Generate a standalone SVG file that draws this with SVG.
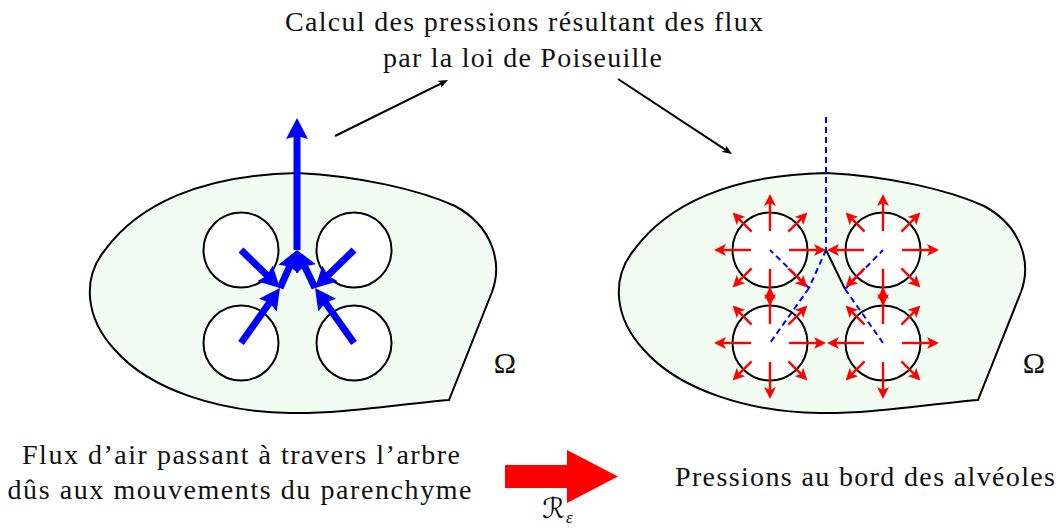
<svg xmlns="http://www.w3.org/2000/svg" xmlns:xlink="http://www.w3.org/1999/xlink" width="1062" height="528" viewBox="0 0 1062 528">
<style>
.txt{font-family:"Liberation Serif","DejaVu Serif",serif;fill:#111;}
.region{fill:#f2fcf2;stroke:#000;stroke-width:2;}
.alv{fill:#fff;stroke:#000;stroke-width:2;}
.flow{stroke:#0000ff;stroke-width:7;fill:none;marker-end:url(#bhead);}
.dash{stroke:#0000ff;stroke-width:2;stroke-dasharray:6 4;fill:none;}
.pr{stroke:#ff0000;stroke-width:2.4;marker-end:url(#rhead);}
.link{stroke:#000;stroke-width:2;fill:none;marker-end:url(#khead);}
</style>
<defs>
<marker id="bhead" markerUnits="userSpaceOnUse" viewBox="0 0 21 22" markerWidth="21" markerHeight="22" refX="10" refY="11" orient="auto"><path d="M0,0 L21,11 L0,22 L3,11 Z" fill="#0000ff"/></marker>
<marker id="rhead" markerUnits="userSpaceOnUse" viewBox="0 0 12 12" markerWidth="12" markerHeight="12" refX="6" refY="6" orient="auto"><path d="M0,0 L12,6 L0,12 L3,6 Z" fill="#ff0000"/></marker>
<marker id="khead" markerUnits="userSpaceOnUse" viewBox="0 0 10 8" markerWidth="10" markerHeight="8" refX="6" refY="4" orient="auto"><path d="M0,0 L10,4 L0,8 L2.5,4 Z" fill="#000"/></marker>
<path id="outline" d="M449,400 C400,404 340,414 290,413 C220,412 150,390 115,350 C85,318 82,278 105,250 C138,205 200,175 297,173 C360,176 420,190 455,206 C492,226 503,262 492,292 Z"/>
<g id="burst">
<line class="pr" x1="19" y1="0" x2="50" y2="0"/>
<line class="pr" x1="-19" y1="0" x2="-50" y2="0"/>
<line class="pr" x1="0" y1="19" x2="0" y2="50"/>
<line class="pr" x1="0" y1="-19" x2="0" y2="-50"/>
<line class="pr" x1="18.4" y1="18.4" x2="33.2" y2="33.2"/>
<line class="pr" x1="-18.4" y1="18.4" x2="-33.2" y2="33.2"/>
<line class="pr" x1="18.4" y1="-18.4" x2="33.2" y2="-33.2"/>
<line class="pr" x1="-18.4" y1="-18.4" x2="-33.2" y2="-33.2"/>
</g>
</defs>

<g id="domain-left">
<use xlink:href="#outline" href="#outline" class="region"/>
<text class="txt" x="505" y="373" font-size="30" text-anchor="middle">Ω</text>
</g>
<g id="alveoles-left">
<circle class="alv" cx="241" cy="250" r="37.5"/>
<circle class="alv" cx="354" cy="250" r="37.5"/>
<circle class="alv" cx="241" cy="343" r="37.5"/>
<circle class="alv" cx="354" cy="343" r="37.5"/>
</g>

<g id="domain-right">
<use xlink:href="#outline" href="#outline" class="region" transform="translate(529,0)"/>
<text class="txt" x="1034" y="373" font-size="30" text-anchor="middle">Ω</text>
</g>
<g id="alveoles-right">
<circle class="alv" cx="770" cy="250" r="37.5"/>
<circle class="alv" cx="883" cy="250" r="37.5"/>
<circle class="alv" cx="770" cy="343" r="37.5"/>
<circle class="alv" cx="883" cy="343" r="37.5"/>
</g>

<g id="connectors">
<g id="flux-tree">
<line class="flow" x1="297" y1="250" x2="297" y2="129"/>
<line class="flow" x1="280" y1="288" x2="292.5" y2="260"/>
<line class="flow" x1="315" y1="288" x2="301.7" y2="259.9"/>
<line class="flow" x1="241" y1="250" x2="272.1" y2="280.3"/>
<line class="flow" x1="241" y1="343" x2="273.6" y2="297"/>
<line class="flow" x1="354" y1="250" x2="322.9" y2="280.3"/>
<line class="flow" x1="354" y1="343" x2="321.4" y2="297"/>
</g>
<g id="pressure-tree">
<line class="dash" x1="826" y1="117" x2="826" y2="250"/>
<line class="dash" x1="826" y1="250" x2="809" y2="288"/>
<line x1="826" y1="250" x2="845" y2="289" stroke="#000" stroke-width="2"/>
<line class="dash" x1="809" y1="288" x2="770" y2="250"/>
<line class="dash" x1="809" y1="288" x2="770" y2="343"/>
<line class="dash" x1="845" y1="289" x2="883" y2="250"/>
<line class="dash" x1="845" y1="289" x2="883" y2="343"/>
</g>
<g id="pressures">
<use xlink:href="#burst" href="#burst" x="770" y="250"/>
<use xlink:href="#burst" href="#burst" x="883" y="250"/>
<use xlink:href="#burst" href="#burst" x="770" y="343"/>
<use xlink:href="#burst" href="#burst" x="883" y="343"/>
</g>
<line class="link" x1="335" y1="136" x2="444.4" y2="81.8"/>
<line class="link" x1="618" y1="79" x2="728.7" y2="151.8"/>
<g id="operator">
<polygon points="505,465 567,465 567,450 618,476.5 567,503 567,488 505,488" fill="#ff0000"/>
<text x="542" y="518" font-size="28" font-family="DejaVu Sans, DejaVu Serif, serif" fill="#111">ℛ</text>
<text class="txt" x="566" y="523" font-size="17" font-style="italic">ε</text>
</g>
</g>

<g id="label-top">
<text class="txt" x="524" y="31" font-size="28" text-anchor="middle" textLength="478" lengthAdjust="spacing">Calcul des pressions résultant des flux</text>
<text class="txt" x="522.5" y="67" font-size="28" text-anchor="middle" textLength="279" lengthAdjust="spacing">par la loi de Poiseuille</text>
</g>
<g id="label-left">
<text class="txt" x="241" y="464" font-size="28" text-anchor="middle" textLength="438" lengthAdjust="spacing">Flux d’air passant à travers l’arbre</text>
<text class="txt" x="239.5" y="499" font-size="28" text-anchor="middle" textLength="464" lengthAdjust="spacing">dûs aux mouvements du parenchyme</text>
</g>
<g id="label-right">
<text class="txt" x="865" y="486" font-size="28" text-anchor="middle" textLength="380" lengthAdjust="spacing">Pressions au bord des alvéoles</text>
</g>
</svg>
